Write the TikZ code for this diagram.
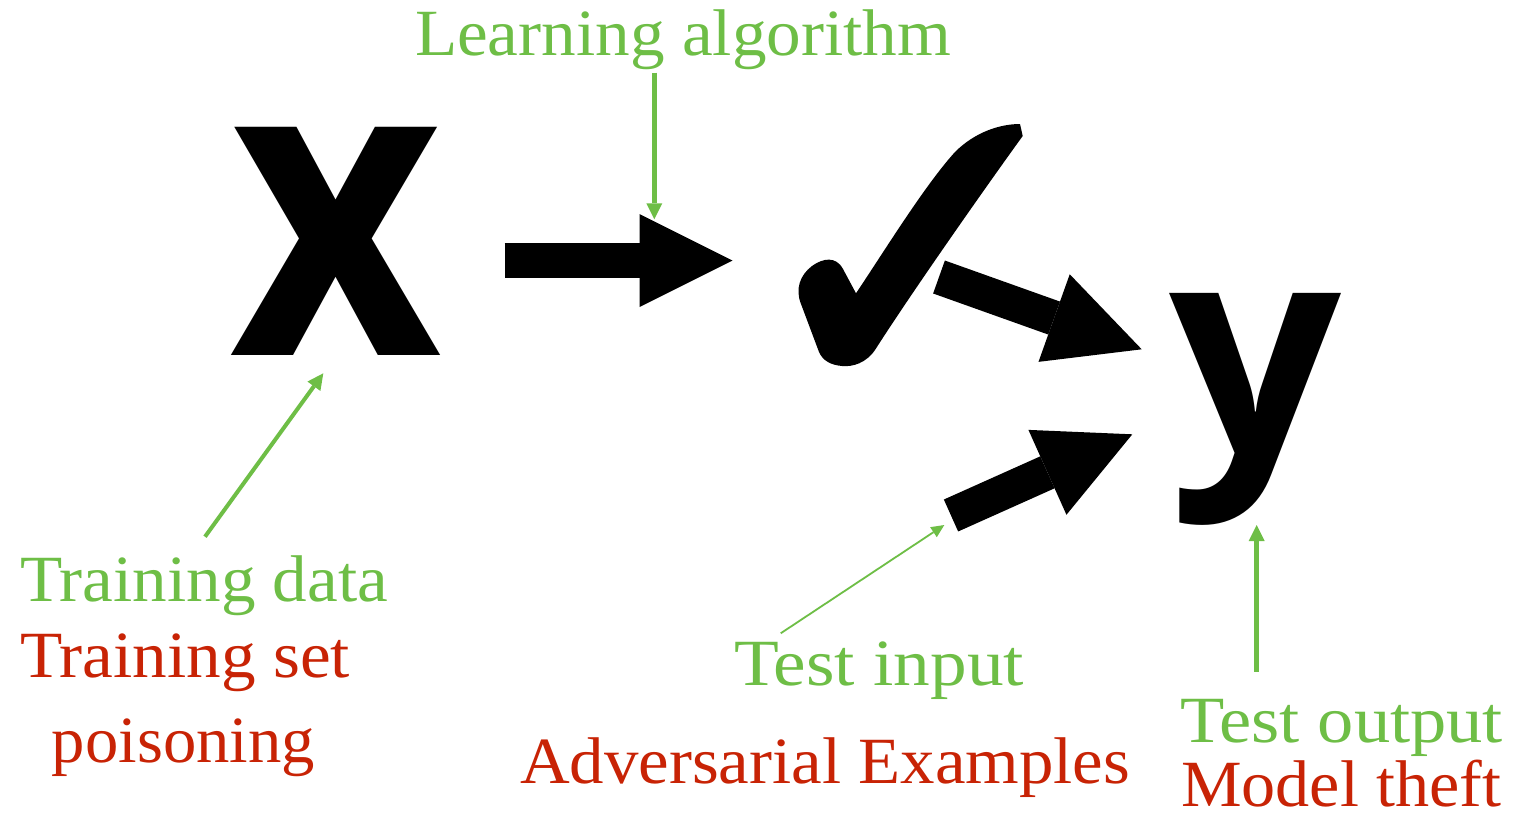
\documentclass[tikz,border=0pt]{standalone}
\usepackage{fontspec}
\setmainfont{Liberation Serif}
\newfontfamily\bigsans{Open Sans}
\usetikzlibrary{arrows.meta}
\definecolor{lgreen}{RGB}{110,190,70}
\definecolor{lred}{RGB}{200,35,5}
\newcommand{\fitw}[2]{\resizebox{#1pt}{\height}{#2}}
\begin{document}
\begin{tikzpicture}[x=1pt,y=-1pt,
  lbl/.style={inner sep=0pt, outer sep=0pt, anchor=base west, font=\fontsize{66}{70}\selectfont},
  glbl/.style={lbl, text=lgreen},
  rlbl/.style={lbl, text=lred},
  bigarrow/.style={line width=35pt, -{Triangle[length=93pt,width=93pt,line width=0pt]}},
  ptr/.style={draw=lgreen, line width=#1, -{Triangle[length=16pt,width=16pt,line width=0pt]}},
  thinptr/.style={draw=lgreen, line width=1.8pt, -{Triangle[length=13pt,width=12pt,line width=0pt]}},
  letter/.style={inner sep=0pt, outer sep=0pt, anchor=south west},
]
\fill[white] (0,0) rectangle (1514,820);
\useasboundingbox (0,0) rectangle (1514,820);

% big letters
\node[letter] (X) at (229,355) {\resizebox{213pt}{228pt}{\bigsans\bfseries x}};
\node[letter] (Y) at (1169,525) {\resizebox*{172pt}{232pt}{\bigsans\bfseries y}};

% check mark
\fill[black] (1020,124) -- (1022.7,136)
  .. controls (985,188) and (910,295) .. (875,350)
  .. controls (866,363) and (853,367) .. (842,366)
  .. controls (831,365) and (823,361) .. (819,352)
  -- (801,304)
  .. controls (795,289) and (800,275) .. (812,266)
  .. controls (823,258) and (836,256) .. (843,269)
  -- (856,293.3)
  .. controls (885,250) and (925,185) .. (955,152)
  .. controls (975,132) and (1000,124) .. (1020,124) -- cycle;

% labels
\node[glbl] (la) at (415,55) {\fitw{536}{Learning algorithm}};
\node[glbl] (td) at (20,601) {\fitw{368}{Training data}};
\node[rlbl] (ts) at (20,677) {\fitw{330}{Training set}};
\node[rlbl] (po) at (52,762) {\fitw{263}{poisoning}};
\node[glbl] (ti) at (734,685) {\fitw{290}{Test input}};
\node[rlbl] (ae) at (520,783.5) {\fitw{610}{Adversarial Examples}};
\node[glbl] (to) at (1180,742) {\fitw{323}{Test output}};
\node[rlbl] (mt) at (1181,806) {\fitw{320}{Model theft}};

% thick arrows
\coordinate (a1s) at (504.5,260.5); \coordinate (a1e) at (732.5,260.5);
\coordinate (a2s) at (939,277);     \coordinate (a2e) at (1141.7,349.3);
\coordinate (a3s) at (951,515.5);   \coordinate (a3e) at (1132.3,434.3);
\draw[bigarrow] (a1s) -- (a1e);
\draw[bigarrow] (a2s) -- (a2e);
\draw[bigarrow] (a3s) -- (a3e);

% green pointers
\coordinate (p1s) at (654.3,72.7);   \coordinate (p1e) at (654.3,219.3);
\coordinate (p2s) at (205,536.7);    \coordinate (p2e) at (323.3,373.3);
\coordinate (p3s) at (780.7,633.3);  \coordinate (p3e) at (944.3,525);
\coordinate (p4s) at (1256.7,671.7); \coordinate (p4e) at (1256.7,525);
\draw[ptr=4.5pt] (p1s) -- (p1e);
\draw[ptr=4pt] (p2s) -- (p2e);
\draw[thinptr] (p3s) -- (p3e);
\draw[ptr=5.5pt] (p4s) -- (p4e);
\end{tikzpicture}
\end{document}
